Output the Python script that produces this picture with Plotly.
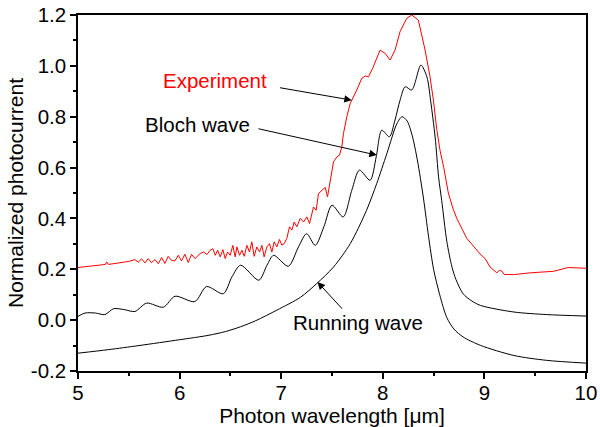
import plotly.graph_objects as go

# Measured photocurrent spectrum
exp_x = [5.00, 5.10, 5.20, 5.27, 5.282, 5.30, 5.40, 5.50,
         5.560, 5.593, 5.626, 5.659, 5.691, 5.724, 5.757, 5.790, 5.823, 5.855,
         5.888, 5.921, 5.954, 5.987, 6.019, 6.052, 6.085, 6.118, 6.151, 6.183,
         6.203, 6.236, 6.269, 6.301, 6.328, 6.351, 6.374, 6.400, 6.426, 6.449,
         6.472, 6.498, 6.524, 6.547, 6.564, 6.590, 6.613, 6.636, 6.662, 6.688,
         6.711, 6.734, 6.760, 6.787, 6.810, 6.832, 6.859, 6.885, 6.908, 6.931,
         6.957, 6.983, 7.006, 7.029, 7.055, 7.082, 7.105, 7.128, 7.154,
         7.187, 7.220, 7.253, 7.279, 7.318, 7.344, 7.367, 7.400, 7.433, 7.456,
         7.482, 7.515, 7.548, 7.574, 7.597, 7.613, 7.646, 7.679, 7.744, 7.793,
         7.826, 7.859, 7.90, 7.973, 8.023, 8.072, 8.121, 8.170, 8.236, 8.285,
         8.35, 8.416, 8.465, 8.498, 8.531, 8.563, 8.60, 8.645, 8.69, 8.728,
         8.826, 8.958, 9.007, 9.056, 9.122, 9.148, 9.171, 9.194, 9.286, 9.45,
         9.679, 9.826, 10.0]
exp_y = [0.207, 0.212, 0.218, 0.219, 0.229, 0.219, 0.225, 0.231,
         0.238, 0.228, 0.241, 0.225, 0.242, 0.226, 0.238, 0.222, 0.246, 0.223,
         0.251, 0.235, 0.233, 0.255, 0.233, 0.259, 0.227, 0.259, 0.242, 0.255,
         0.262, 0.268, 0.258, 0.275, 0.281, 0.255, 0.275, 0.249, 0.277, 0.242,
         0.268, 0.255, 0.294, 0.249, 0.288, 0.255, 0.275, 0.251, 0.294, 0.268,
         0.308, 0.251, 0.288, 0.268, 0.294, 0.249, 0.288, 0.301, 0.268, 0.308,
         0.288, 0.317, 0.295, 0.301, 0.321, 0.367, 0.354, 0.386, 0.367,
         0.400, 0.386, 0.406, 0.380, 0.445, 0.432, 0.498, 0.511, 0.522, 0.485,
         0.550, 0.623, 0.642, 0.649, 0.682, 0.734, 0.800, 0.852, 0.905, 0.951,
         0.960, 0.957, 0.990, 1.062, 1.049, 1.023, 1.062, 1.135, 1.187, 1.200,
         1.180, 1.062, 0.957, 0.865, 0.750, 0.668, 0.600, 0.500, 0.440, 0.400,
         0.322, 0.260, 0.242, 0.209, 0.186, 0.196, 0.193, 0.180, 0.179, 0.186,
         0.192, 0.207, 0.204]

# Bloch-wave model
bloch_x = [5.00, 5.07, 5.17, 5.265, 5.35, 5.46, 5.56, 5.675, 5.84, 5.955,
           6.15, 6.265, 6.43, 6.515, 6.60, 6.78, 6.86, 6.925, 7.07, 7.17,
           7.25, 7.335, 7.42, 7.50, 7.61, 7.695, 7.77, 7.875, 7.935, 7.99,
           8.065, 8.12, 8.17, 8.22, 8.285, 8.375, 8.435, 8.47, 8.515, 8.55,
           8.58, 8.63, 8.68, 8.72, 8.79, 8.87, 8.96, 9.29, 9.61, 10.0]
bloch_y = [0.015, 0.028, 0.028, 0.022, 0.045, 0.041, 0.034, 0.067, 0.051, 0.094,
           0.073, 0.132, 0.104, 0.170, 0.216, 0.157, 0.216, 0.255, 0.212, 0.288,
           0.340, 0.294, 0.367, 0.452, 0.406, 0.511, 0.590, 0.550, 0.642, 0.747,
           0.721, 0.787, 0.865, 0.918, 0.905, 1.003, 0.955, 0.865, 0.720, 0.560,
           0.470, 0.310, 0.210, 0.160, 0.104, 0.077, 0.058, 0.032, 0.022, 0.016]

# Running-wave model
run_x = [5.00, 5.30, 5.60, 6.00, 6.28, 6.45, 6.60, 6.75, 6.96,
         7.19, 7.35, 7.515, 7.68, 7.84, 7.94, 8.04, 8.14, 8.19, 8.24,
         8.29, 8.34, 8.40, 8.45, 8.50, 8.56, 8.63, 8.70, 8.79, 8.96,
         9.29, 9.61, 10.0]
run_y = [-0.130, -0.116, -0.100, -0.077, -0.060, -0.045, -0.026, -0.002, 0.040,
         0.090, 0.144, 0.209, 0.301, 0.432, 0.537, 0.655, 0.774, 0.800, 0.783,
         0.725, 0.630, 0.480, 0.330, 0.200, 0.100, 0.010, -0.035, -0.066, -0.099,
         -0.139, -0.158, -0.169]

y_ticks = [-0.2, 0.0, 0.2, 0.4, 0.6, 0.8, 1.0, 1.2]
y_labels = ["-0.2", "0.0", "0.2", "0.4", "0.6", "0.8", "1.0", "1.2"]
x_ticks = [5, 6, 7, 8, 9, 10]

FONT = "Liberation Sans, Arial, sans-serif"

fig = go.Figure()
fig.add_trace(go.Scatter(x=exp_x, y=exp_y, mode="lines",
                         line=dict(color="#ff0000", width=1)))
fig.add_trace(go.Scatter(x=bloch_x, y=bloch_y, mode="lines",
                         line=dict(color="black", width=1, shape="spline", smoothing=0.8)))
fig.add_trace(go.Scatter(x=run_x, y=run_y, mode="lines",
                         line=dict(color="black", width=1, shape="spline", smoothing=0.8)))

axis_common = dict(showline=True, linecolor="black", linewidth=1.5, mirror=True,
                   ticks="outside", ticklen=6, tickwidth=1.5, tickcolor="black",
                   showgrid=False, zeroline=False, automargin=False,
                   tickfont=dict(family=FONT, size=20.5, color="black"))

fig.update_xaxes(range=[5, 10], tickvals=x_ticks, ticklabelstandoff=-3,
                 minor=dict(ticks="outside", ticklen=3, tickwidth=1.5,
                            tickcolor="black", dtick=0.5, tick0=5),
                 title=dict(text="Photon wavelength [μm]",
                            font=dict(family=FONT, size=21, color="black"),
                            standoff=5),
                 **axis_common)
fig.update_yaxes(range=[-0.2, 1.2], tickvals=y_ticks, ticktext=y_labels,
                 minor=dict(ticks="outside", ticklen=3, tickwidth=1.5,
                            tickcolor="black", dtick=0.1, tick0=-0.2),
                 title=dict(text="Normalized photocurrent",
                            font=dict(family=FONT, size=21, color="black"),
                            standoff=1),
                 **axis_common)

# Curve labels with pointer arrows
labels = [
    ("Experiment", 6.351, 0.944, "#ff0000", 6.973, 0.915, 7.695, 0.865),
    ("Bloch wave", 6.172, 0.769, "black", 6.761, 0.754, 7.941, 0.649),
    ("Running wave", 7.752, -0.009, "black", 7.613, 0.039, 7.357, 0.150),
]
for text, tx, ty, color, x0, y0, x1, y1 in labels:
    fig.add_annotation(x=tx, y=ty, text=text, showarrow=False,
                       font=dict(family=FONT, size=20.5, color=color))
    fig.add_annotation(x=x1, y=y1, ax=x0, ay=y0, axref="x", ayref="y",
                       xref="x", yref="y", text="", showarrow=True,
                       arrowhead=2, arrowsize=1.5, arrowwidth=1, arrowcolor="black")

fig.update_layout(width=600, height=427, showlegend=False,
                  margin=dict(l=78, r=14, t=15, b=56),
                  paper_bgcolor="white", plot_bgcolor="white")

fig.write_html("out.html")
